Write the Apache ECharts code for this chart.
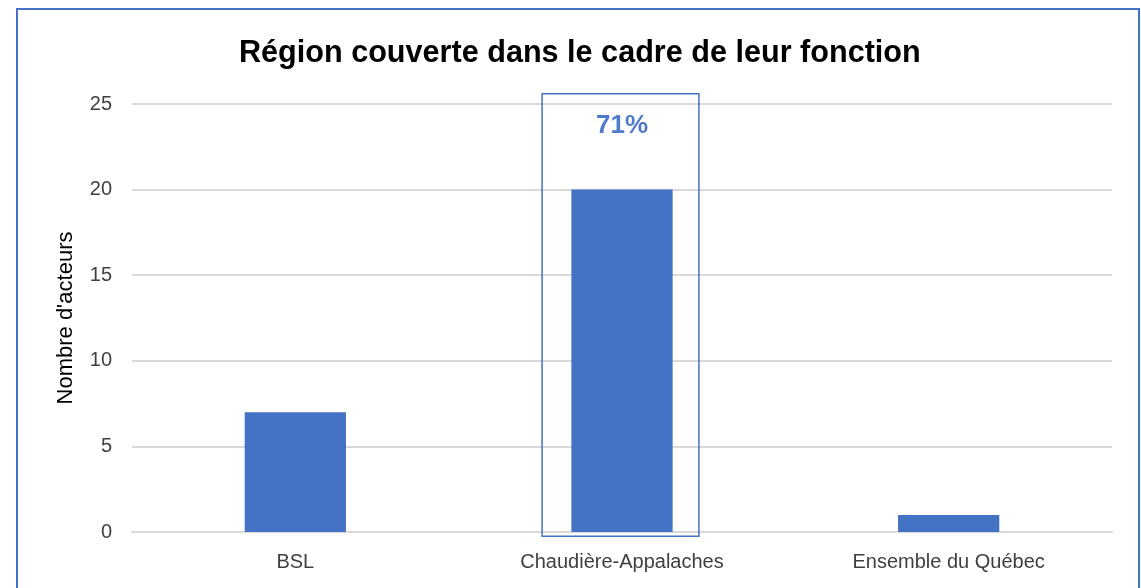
<!DOCTYPE html>
<html>
<head>
<meta charset="utf-8">
<script src="https://cdn.jsdelivr.net/npm/echarts@6/dist/echarts.min.js"></script>
<style>
  html, body { margin: 0; padding: 0; background: #ffffff; }
  #chart { width: 1141px; height: 588px; }
</style>
</head>
<body>
<div id="chart"></div>
<script>
// Region covered by the respondents' role
const categories = ['BSL', 'Chaudière-Appalaches', 'Ensemble du Québec'];
const counts = [7, 20, 1];
const yTicks = { min: 0, max: 25, interval: 5 };
const highlightIndex = 1;

const total = counts.reduce((a, b) => a + b, 0);
const highlightShare = Math.round(counts[highlightIndex] / total * 100) + '%';

const BLUE = '#4472C4';
const FONT = '"Liberation Sans", Arial, sans-serif';

const chart = echarts.init(document.getElementById('chart'), null, { renderer: 'canvas' });

chart.setOption({
  animation: false,
  backgroundColor: '#ffffff',
  title: {
    text: 'Région couverte dans le cadre de leur fonction',
    left: 234,
    top: 33,
    textStyle: {
      fontFamily: FONT,
      fontWeight: 'bold',
      fontSize: 30.6,
      color: '#000000'
    }
  },
  graphic: [{
    type: 'rect',
    silent: true,
    shape: { x: 17, y: 9, width: 1122, height: 600 },
    style: { fill: 'none', stroke: BLUE, lineWidth: 2 }
  }],
  grid: { left: 132, right: 29, top: 104, bottom: 56, containLabel: false },
  xAxis: {
    type: 'category',
    data: categories,
    axisLine: { show: true, lineStyle: { color: '#D9D9D9', width: 2 } },
    axisTick: { show: false },
    axisLabel: {
      margin: 20,
      fontFamily: FONT,
      fontSize: 20,
      color: '#404040'
    }
  },
  yAxis: {
    type: 'value',
    min: yTicks.min,
    max: yTicks.max,
    interval: yTicks.interval,
    name: "Nombre d'acteurs",
    nameLocation: 'middle',
    nameGap: 55,
    nameTextStyle: {
      fontFamily: FONT,
      fontSize: 22,
      color: '#000000'
    },
    axisLine: { show: false },
    axisTick: { show: false },
    splitLine: { lineStyle: { color: '#D9D9D9', width: 2 } },
    axisLabel: {
      margin: 20,
      fontFamily: FONT,
      fontSize: 20,
      color: '#404040'
    }
  },
  series: [
    {
      type: 'bar',
      data: counts,
      barWidth: '31%',
      itemStyle: { color: BLUE },
      z: 2
    },
    {
      // outline around the highlighted category, with its share of the total
      type: 'custom',
      data: [[highlightIndex, counts[highlightIndex]]],
      z: 3,
      silent: true,
      clip: false,
      renderItem: function (params, api) {
        const idx = api.value(0);
        const bandWidth = api.size([1, 0])[0];
        const center = api.coord([idx, 0]);
        const topPt = api.coord([idx, 25.6]);
        const bottomPt = api.coord([idx, -0.25]);
        const labelPt = api.coord([idx, 23.75]);
        const w = bandWidth * 0.48;
        const cx = center[0] - 1.5;
        return {
          type: 'group',
          children: [
            {
              type: 'rect',
              shape: { x: cx - w / 2, y: topPt[1], width: w, height: bottomPt[1] - topPt[1] },
              style: { fill: 'none', stroke: BLUE, lineWidth: 1.5 }
            },
            {
              type: 'text',
              x: center[0],
              y: labelPt[1],
              style: {
                text: highlightShare,
                align: 'center',
                verticalAlign: 'middle',
                fontFamily: FONT,
                fontWeight: 'bold',
                fontSize: 26,
                fill: '#4F7BCB'
              }
            }
          ]
        };
      }
    }
  ]
});
</script>
</body>
</html>
